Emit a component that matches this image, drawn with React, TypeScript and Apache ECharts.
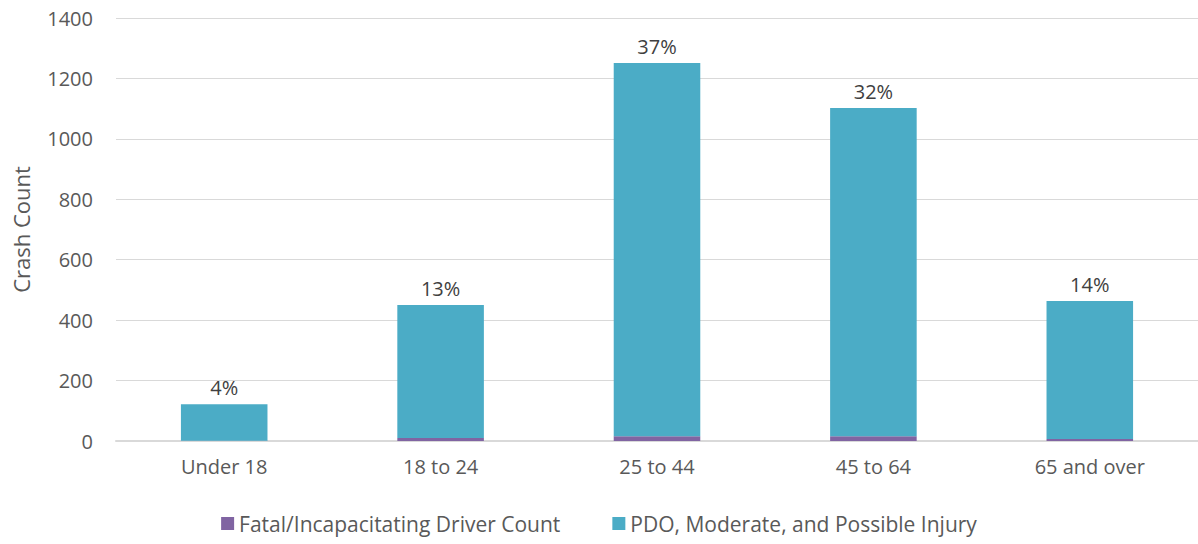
import React, { useEffect, useRef } from "react";
import * as echarts from "echarts";

const categories = ["Under 18", "18 to 24", "25 to 44", "45 to 64", "65 and over"];
const fatalCounts = [1, 10, 16, 16, 7];
const otherCounts = [121, 440, 1235, 1086, 456];
const shareLabels = ["4%", "13%", "37%", "32%", "14%"];
const yTicks = { min: 0, max: 1400, interval: 200 };

const FONT = "'Open Sans', 'Noto Sans', sans-serif";
const TXT = "#595959";

export default function App() {
  const ref = useRef<HTMLDivElement>(null);
  useEffect(() => {
    const chart = echarts.init(ref.current!, null, { renderer: "svg" });
    chart.setOption({
      animation: false,
      textStyle: { fontFamily: FONT },
      grid: { left: 116, right: 0, top: 18, bottom: 103 },
      legend: {
        bottom: 5,
        left: "center",
        itemWidth: 13,
        itemHeight: 13,
        itemGap: 52,
        icon: "rect",
        textStyle: { fontSize: 21, color: TXT, fontFamily: FONT },
        data: ["Fatal/Incapacitating Driver Count", "PDO, Moderate, and Possible Injury"],
      },
      xAxis: {
        type: "category",
        data: categories,
        axisLine: { lineStyle: { color: "#d9d9d9", width: 2 } },
        axisTick: { show: false },
        axisLabel: { fontSize: 20, color: TXT, margin: 15, fontFamily: FONT },
      },
      yAxis: {
        type: "value",
        min: yTicks.min,
        max: yTicks.max,
        interval: yTicks.interval,
        name: "Crash Count",
        nameLocation: "middle",
        nameGap: 84,
        nameTextStyle: { fontSize: 22, color: TXT, fontFamily: FONT },
        axisLine: { show: false },
        axisTick: { show: false },
        axisLabel: {
          fontSize: 20,
          color: TXT,
          margin: 23,
          fontFamily: FONT,
          formatter: (v: number) => String(v),
        },
        splitLine: { lineStyle: { color: "#d9d9d9", width: 1 } },
      },
      series: [
        {
          name: "Fatal/Incapacitating Driver Count",
          type: "bar",
          stack: "total",
          data: fatalCounts,
          barWidth: "40%",
          itemStyle: { color: "#8064A2" },
        },
        {
          name: "PDO, Moderate, and Possible Injury",
          type: "bar",
          stack: "total",
          data: otherCounts,
          barWidth: "40%",
          itemStyle: { color: "#4BACC6" },
          label: {
            show: true,
            position: "top",
            distance: 7,
            fontSize: 20,
            color: "#404040",
            fontFamily: FONT,
            formatter: (p: any) => shareLabels[p.dataIndex],
          },
        },
      ],
    });
    return () => chart.dispose();
  }, []);
  return <div ref={ref} style={{ width: 1198, height: 544, position: "absolute", left: 0, top: 0 }} />;
}
